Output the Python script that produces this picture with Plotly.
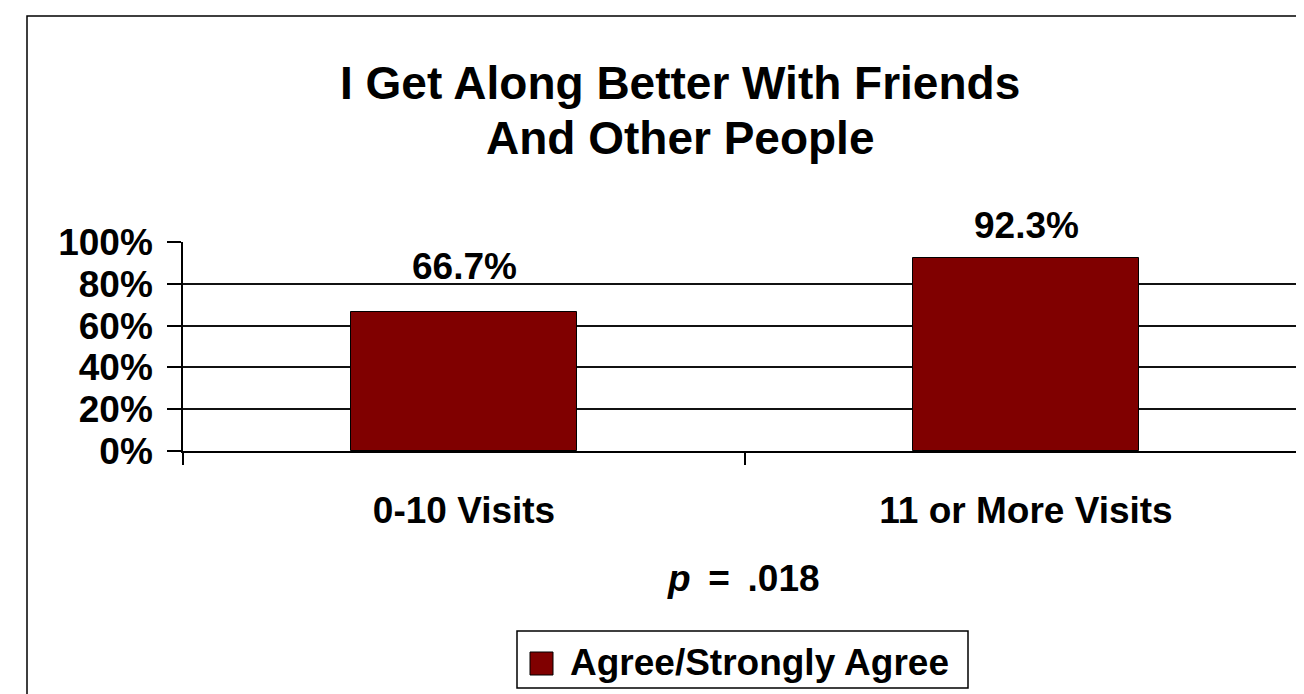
import plotly.graph_objects as go

# ---- data ----
categories = ["0-10 Visits", "11 or More Visits"]
agree_values = [0.667, 0.923]
value_labels = ["66.7%", "92.3%"]
series_name = "Agree/Strongly Agree"
title_lines = ["I Get Along Better With Friends", "And Other People"]
p_text = "<i>p</i>\u2009 = \u2009.018"
y_ticks = [0, 0.2, 0.4, 0.6, 0.8, 1.0]

# ---- layout constants (page pixels; the page has an 8px body margin) ----
OFF = 8
W, H = 1304 - OFF, 694 - OFF
L = 183 - OFF
T = 242 - OFF
B = H - (451 - OFF)
R = 0
PW = W - L - R
PH = H - T - B
CAT_W = 562.0
FONT = "Liberation Sans, Arial, sans-serif"
BAR_COLOR = "#800000"
label_shift_px = [45, 33]


def px_x(px):
    # px given in page coordinates
    return (px - OFF - L) / PW


def px_y(py):
    return (H - B - (py - OFF)) / PH


fig = go.Figure()
fig.add_trace(go.Bar(
    x=categories, y=agree_values, name=series_name,
    width=226 / CAT_W,
    marker=dict(color=BAR_COLOR, line=dict(color="#000000", width=1)),
    showlegend=False, hoverinfo="skip",
))

annotations = []
for cat, v, lab, sh in zip(categories, agree_values, value_labels, label_shift_px):
    annotations.append(dict(
        x=cat, y=v, xref="x", yref="y", text=lab, showarrow=False,
        yanchor="middle", xanchor="center", yshift=sh,
        font=dict(family=FONT, size=37, color="#000", weight="bold"),
    ))

annotations.append(dict(
    x=px_x(743), y=px_y(578), xref="paper", yref="paper", text=p_text,
    showarrow=False, xanchor="center", yanchor="middle",
    font=dict(family=FONT, size=37, color="#000", weight="bold"),
))
annotations.append(dict(
    x=px_x(568), y=px_y(662), xref="paper", yref="paper", text=series_name,
    showarrow=False, xanchor="left", yanchor="middle",
    font=dict(family=FONT, size=37, color="#000", weight="bold"),
))
# title, two lines
for line, cy in zip(title_lines, [83, 138]):
    annotations.append(dict(
        x=px_x(680), y=px_y(cy), xref="paper", yref="paper", text=line,
        showarrow=False, xanchor="center", yanchor="middle",
        font=dict(family=FONT, size=46, color="#000", weight="bold"),
    ))

shapes = [
    # outer chart frame
    dict(type="rect", xref="paper", yref="paper",
         x0=px_x(27), x1=px_x(1330), y0=px_y(16), y1=px_y(720),
         line=dict(color="#000", width=1.5), fillcolor="rgba(0,0,0,0)", layer="below"),
    # legend box
    dict(type="rect", xref="paper", yref="paper",
         x0=px_x(517), x1=px_x(968), y0=px_y(631), y1=px_y(688),
         line=dict(color="#000", width=1.5), fillcolor="white"),
    # legend swatch
    dict(type="rect", xref="paper", yref="paper",
         x0=px_x(530), x1=px_x(553), y0=px_y(652), y1=px_y(675),
         line=dict(color="#000", width=1), fillcolor=BAR_COLOR),
]

fig.update_layout(
    width=W, height=H,
    margin=dict(l=L, r=R, t=T, b=B, pad=0),
    paper_bgcolor="white", plot_bgcolor="white",
    bargap=0,
    annotations=annotations,
    shapes=shapes,
    xaxis=dict(
        type="category",
        range=[-0.5, -0.5 + PW / CAT_W],
        showline=True, linecolor="#000", linewidth=1.5,
        ticks="outside", tickson="boundaries", ticklen=12, tickwidth=1.5, tickcolor="#000",
        showgrid=False, zeroline=False,
        tickfont=dict(family=FONT, size=37, color="#000", weight="bold"),
        ticklabelstandoff=26,
    ),
    yaxis=dict(
        range=[0, 1], tickvals=y_ticks, tickformat=".0%",
        showline=True, linecolor="#000", linewidth=1.5,
        ticks="outside", ticklen=14, tickwidth=1.5, tickcolor="#000",
        showgrid=True, gridcolor="#111", gridwidth=1.5, zeroline=False,
        tickfont=dict(family=FONT, size=37, color="#000", weight="bold"),
        ticklabelstandoff=7,
    ),
)

fig.write_html("out.html")
